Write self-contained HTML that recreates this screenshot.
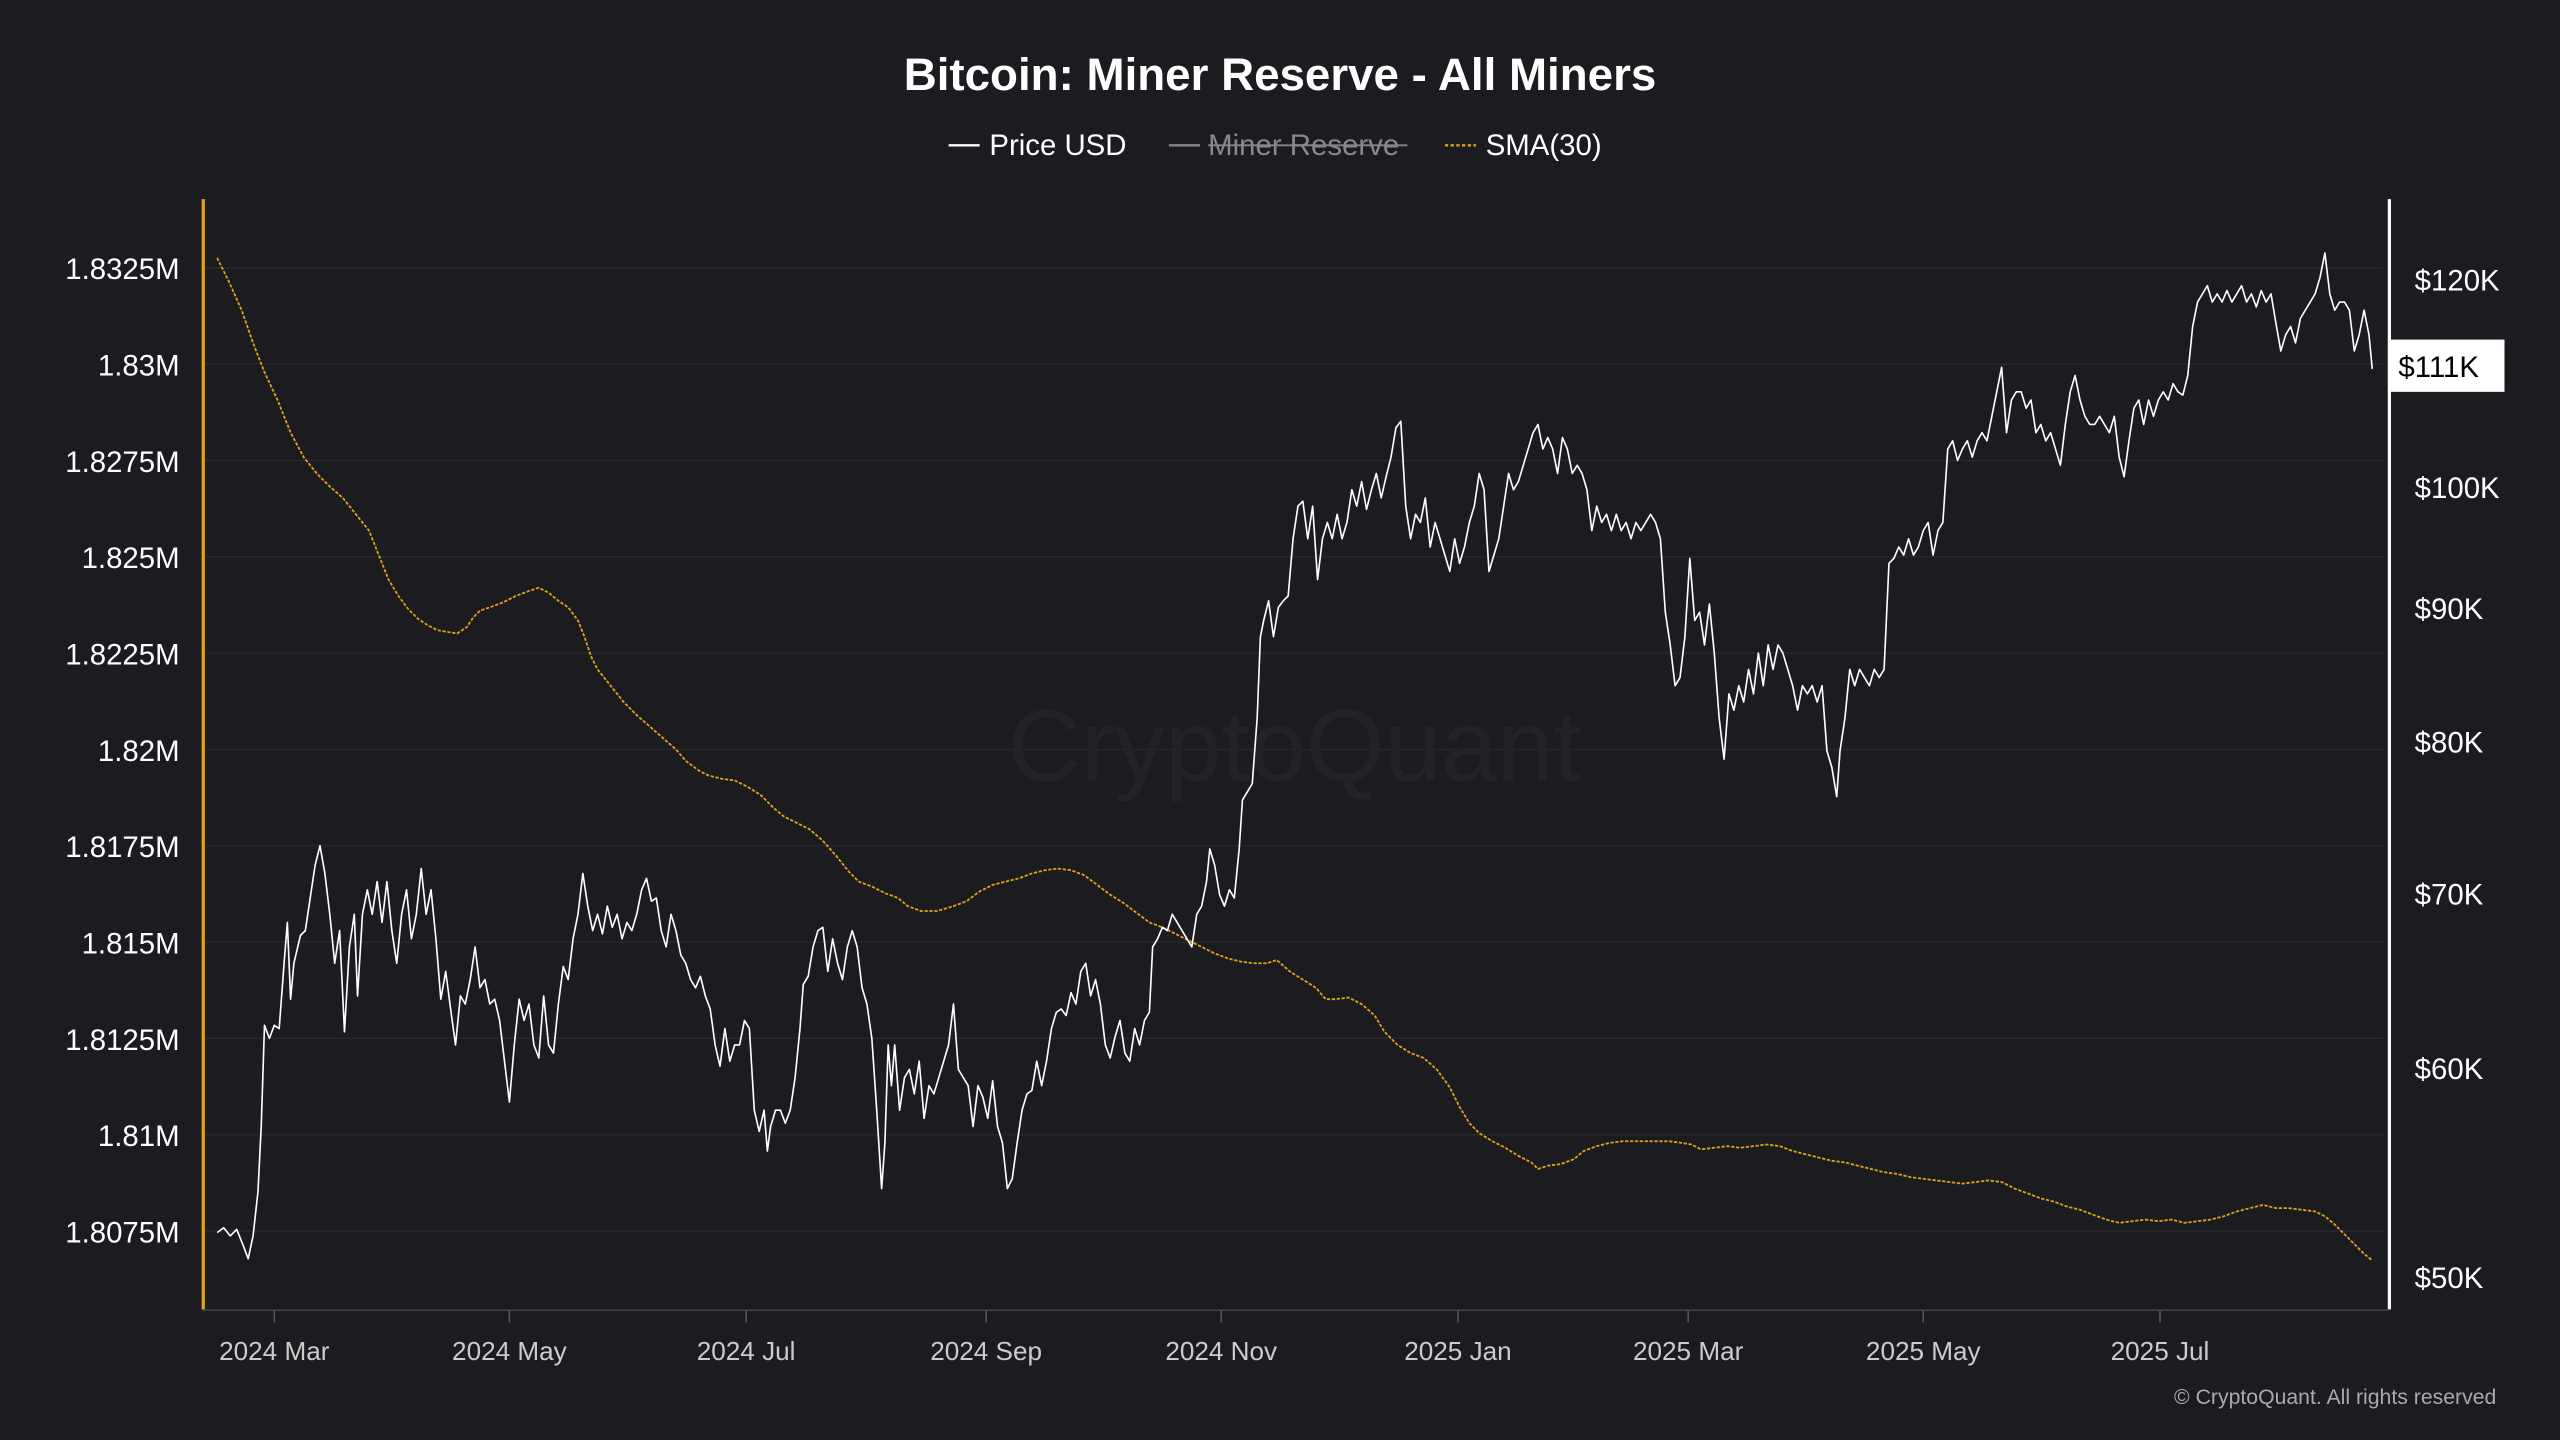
<!DOCTYPE html>
<html><head><meta charset="utf-8"><style>
html,body{margin:0;padding:0;background:#1b1b20;}
svg{display:block;font-family:"Liberation Sans",sans-serif;}
</style></head><body>
<svg width="2560" height="1440" viewBox="0 0 1568 882" xmlns="http://www.w3.org/2000/svg">
<rect width="1568" height="882" fill="#1b1b20"/>
<text x="784" y="55" text-anchor="middle" fill="#fff" font-size="28" font-weight="bold">Bitcoin: Miner Reserve - All Miners</text>
<g font-size="18" fill="#fff">
<line x1="581" y1="89" x2="600" y2="89" stroke="#fff" stroke-width="1.5"/>
<text x="606" y="95">Price USD</text>
<line x1="716" y1="89" x2="735" y2="89" stroke="#888" stroke-width="1.5"/>
<text x="740" y="95" fill="#888">Miner Reserve</text>
<line x1="740" y1="89" x2="862" y2="89" stroke="#888" stroke-width="1.2"/>
<line x1="885" y1="89" x2="904" y2="89" stroke="#e0a21c" stroke-width="1.5" stroke-dasharray="2,1.5"/>
<text x="910" y="95">SMA(30)</text>
</g>
<g stroke="#26262c" stroke-width="1">
<line x1="125" y1="164" x2="1460" y2="164"/><line x1="125" y1="223" x2="1460" y2="223"/>
<line x1="125" y1="282" x2="1460" y2="282"/><line x1="125" y1="341" x2="1460" y2="341"/>
<line x1="125" y1="400" x2="1460" y2="400"/><line x1="125" y1="459" x2="1460" y2="459"/>
<line x1="125" y1="518" x2="1460" y2="518"/><line x1="125" y1="577" x2="1460" y2="577"/>
<line x1="125" y1="636" x2="1460" y2="636"/><line x1="125" y1="695" x2="1460" y2="695"/>
<line x1="125" y1="754" x2="1460" y2="754"/>
</g>
<text x="793" y="478" text-anchor="middle" fill="#222227" font-size="62">CryptoQuant</text>
<line x1="124.5" y1="122" x2="124.5" y2="802" stroke="#e0a21c" stroke-width="2"/>
<line x1="1463.5" y1="122" x2="1463.5" y2="802" stroke="#fff" stroke-width="2"/>
<line x1="124" y1="802.5" x2="1463" y2="802.5" stroke="#444" stroke-width="1"/>
<g font-size="18" fill="#fff" text-anchor="end">
<text x="110" y="171">1.8325M</text><text x="110" y="230">1.83M</text>
<text x="110" y="289">1.8275M</text><text x="110" y="348">1.825M</text>
<text x="110" y="407">1.8225M</text><text x="110" y="466">1.82M</text>
<text x="110" y="525">1.8175M</text><text x="110" y="584">1.815M</text>
<text x="110" y="643">1.8125M</text><text x="110" y="702">1.81M</text>
<text x="110" y="761">1.8075M</text>
</g>
<g font-size="18" fill="#fff">
<text x="1479" y="178">$120K</text><text x="1479" y="305">$100K</text>
<text x="1479" y="379">$90K</text><text x="1479" y="461">$80K</text>
<text x="1479" y="554">$70K</text><text x="1479" y="661">$60K</text>
<text x="1479" y="789">$50K</text>
</g>
<rect x="1464" y="208" width="70" height="32" fill="#fff"/>
<text x="1469" y="231" font-size="18" fill="#000">$111K</text>
<g stroke="#555" stroke-width="1">
<line x1="168" y1="803" x2="168" y2="810"/><line x1="312" y1="803" x2="312" y2="810"/>
<line x1="457" y1="803" x2="457" y2="810"/><line x1="604" y1="803" x2="604" y2="810"/>
<line x1="748" y1="803" x2="748" y2="810"/><line x1="893" y1="803" x2="893" y2="810"/>
<line x1="1034" y1="803" x2="1034" y2="810"/><line x1="1178" y1="803" x2="1178" y2="810"/>
<line x1="1323" y1="803" x2="1323" y2="810"/>
</g>
<g font-size="16" fill="#ccc" text-anchor="middle">
<text x="168" y="833">2024 Mar</text><text x="312" y="833">2024 May</text>
<text x="457" y="833">2024 Jul</text><text x="604" y="833">2024 Sep</text>
<text x="748" y="833">2024 Nov</text><text x="893" y="833">2025 Jan</text>
<text x="1034" y="833">2025 Mar</text><text x="1178" y="833">2025 May</text>
<text x="1323" y="833">2025 Jul</text>
</g>
<text x="1529" y="860" text-anchor="end" font-size="13" fill="#aaa">© CryptoQuant. All rights reserved</text>
<polyline fill="none" stroke="#e0a21c" stroke-width="1.1" stroke-dasharray="2,1" points="133,158 140,172 148,190 155,210 162,228 170,245 178,265 186,280 194,290 202,298 210,305 218,315 226,325 232,340 238,355 244,365 250,373 256,379 262,383 268,386 274,387 280,388 286,384 290,378 294,374 300,372 308,369 316,365 324,362 330,360 336,363 342,368 348,372 354,380 358,390 362,402 366,410 374,420 382,430 390,438 398,445 406,452 414,459 420,466 428,472 434,475 442,477 450,478 458,482 466,487 474,495 480,500 488,504 496,508 504,515 512,524 520,534 526,540 534,543 542,547 550,550 556,555 564,558 574,558 584,555 592,552 600,546 608,542 616,540 624,538 632,535 640,533 648,532 656,533 664,536 672,542 680,548 688,553 696,559 704,565 712,568 720,572 728,576 736,580 744,584 752,587 760,589 768,590 776,590 782,588 790,595 798,600 806,605 812,612 818,612 826,611 834,615 842,622 848,632 856,640 864,645 872,648 880,655 888,666 894,678 900,688 906,694 914,699 922,703 930,708 938,712 942,716 948,714 956,713 964,710 970,705 978,702 986,700 994,699 1004,699 1014,699 1022,699 1030,700 1036,701 1042,704 1050,703 1058,702 1066,703 1074,702 1082,701 1090,702 1098,705 1106,707 1114,709 1122,711 1130,712 1138,714 1146,716 1154,718 1162,719 1170,721 1178,722 1186,723 1194,724 1202,725 1210,724 1218,723 1226,724 1234,728 1242,731 1250,734 1258,736 1266,739 1274,741 1282,744 1290,747 1298,749 1306,748 1314,747 1322,748 1330,747 1338,749 1346,748 1354,747 1362,745 1370,742 1378,740 1386,738 1394,740 1402,740 1410,741 1418,742 1424,745 1430,750 1436,756 1442,762 1448,768 1453,772"/>
<polyline fill="none" stroke="#fff" stroke-width="1" stroke-linejoin="round" points="133,755 137,752 141,757 145,753 149,763 152,771 155,757 158,730 160,690 162,628 165,636 168,628 171,630 174,590 176,565 178,612 180,590 184,573 187,570 190,550 193,530 196,518 199,535 202,560 205,590 208,570 211,632 214,580 217,560 219,610 222,560 225,545 228,560 231,540 234,565 237,540 240,570 243,590 246,560 249,545 252,575 255,560 258,532 261,560 264,545 267,575 270,612 273,595 276,618 279,640 282,610 285,615 288,600 291,580 294,605 297,600 300,615 303,612 306,625 309,650 312,675 315,640 318,612 321,625 324,615 327,640 330,648 333,610 336,640 339,645 342,615 345,592 348,600 351,575 354,560 357,535 360,555 363,570 366,560 369,572 372,555 375,568 378,560 381,575 384,565 387,570 390,560 393,545 396,538 399,552 402,550 405,570 408,580 411,560 414,570 417,585 420,590 423,600 426,605 429,598 432,610 435,618 438,640 441,653 444,630 447,650 450,640 453,640 456,625 459,630 462,680 465,693 468,680 470,705 472,690 475,680 478,680 481,688 484,680 487,660 490,630 492,603 495,598 498,580 501,570 504,568 507,595 510,575 513,590 516,600 519,580 522,570 525,580 528,605 531,615 534,636 537,680 540,728 542,700 544,640 546,665 548,640 551,680 554,660 557,655 560,670 563,650 566,685 569,665 572,670 575,660 578,650 581,640 584,615 587,655 590,660 593,665 596,690 599,665 602,672 605,685 608,662 611,690 614,700 617,728 620,722 623,700 626,680 629,670 632,668 635,650 638,665 641,650 644,630 647,620 650,618 653,622 656,608 659,615 662,595 665,590 668,610 671,600 674,615 677,640 680,648 683,635 686,625 689,645 692,650 695,630 698,640 701,625 704,620 706,580 709,575 712,568 715,570 718,560 721,565 724,570 727,575 730,580 733,560 736,555 739,540 741,520 744,530 747,548 750,555 753,545 756,550 759,520 761,490 764,485 767,480 770,440 772,390 774,380 777,368 780,390 783,372 786,368 789,365 792,330 795,310 798,307 801,330 804,310 807,355 810,330 813,320 816,330 819,315 822,330 825,320 828,300 831,310 834,295 837,312 840,300 843,290 846,305 849,292 852,280 855,262 858,258 861,310 864,330 867,315 870,320 873,305 876,335 879,320 882,330 885,340 888,350 891,330 894,345 897,335 900,320 903,310 906,290 909,300 912,350 915,340 918,330 921,310 924,290 927,300 930,295 933,285 936,275 939,265 942,260 945,275 948,268 951,275 954,290 957,268 960,275 963,290 966,285 969,290 972,300 975,325 978,310 981,320 984,315 987,325 990,315 993,325 996,320 999,330 1002,320 1005,325 1008,320 1011,315 1014,320 1017,330 1020,375 1023,395 1026,420 1029,415 1032,390 1035,342 1038,380 1041,375 1044,395 1047,370 1050,400 1053,440 1056,465 1059,425 1062,435 1065,420 1068,430 1071,410 1074,425 1077,400 1080,420 1083,395 1086,410 1089,395 1092,400 1095,410 1098,420 1101,435 1104,420 1107,425 1110,420 1113,430 1116,420 1119,460 1122,470 1125,488 1127,460 1130,440 1133,410 1136,420 1139,410 1142,415 1145,420 1148,410 1151,415 1154,410 1157,345 1160,342 1163,335 1166,340 1169,330 1172,340 1175,335 1178,325 1181,320 1184,340 1187,325 1190,320 1193,275 1196,270 1199,282 1202,275 1205,270 1208,280 1211,270 1214,265 1217,270 1220,255 1223,240 1226,225 1229,265 1232,245 1235,240 1238,240 1241,250 1244,245 1247,265 1250,260 1253,270 1256,265 1259,275 1262,285 1265,260 1268,240 1271,230 1274,245 1277,255 1280,260 1283,260 1286,255 1289,260 1292,265 1295,255 1298,280 1301,292 1304,270 1307,250 1310,245 1313,260 1316,245 1319,255 1322,245 1325,240 1328,245 1331,235 1334,240 1337,242 1340,230 1343,200 1346,185 1349,180 1352,175 1355,185 1358,180 1361,185 1364,178 1367,185 1370,180 1373,175 1376,185 1379,180 1382,188 1385,178 1388,185 1391,180 1394,198 1397,215 1400,205 1403,200 1406,210 1409,195 1412,190 1415,185 1418,180 1421,170 1424,155 1427,180 1430,190 1433,185 1436,185 1439,190 1442,215 1445,205 1448,190 1451,205 1453,226"/>
</svg>
</body></html>
